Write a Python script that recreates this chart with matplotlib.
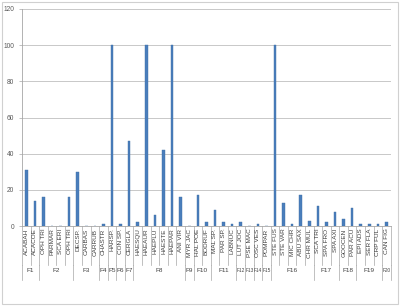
import matplotlib
matplotlib.use('Agg')
import matplotlib.pyplot as plt
import matplotlib.transforms as mtransforms
from matplotlib.patches import Rectangle
import numpy as np

plt.rcParams['font.family'] = ['Liberation Sans', 'DejaVu Sans']

# species codes, in axis order
species = ['ACABAH', 'ACACOE', 'OPH TRI', 'PARMAR', 'SCA ERI', 'OPH TRI',
           'DECSP.', 'CARBAS', 'CARRUB', 'CHASTR', 'HARSP.', 'CON SP.',
           'CERGLA', 'HAESQU', 'HAEAUR', 'HAEPLU', 'HAESTE', 'HAEPAR',
           'ANI VIR', 'MYR JAC', 'HAL POE', 'BODRUF', 'MAL SP.', 'PAR SP.',
           'LABNUC', 'LUT JOC', 'PSE MAC', 'OSC VES', 'POMPAR', 'STE FUS',
           'STE VAR', 'MIC CHR', 'ABU SAX', 'CHR MUL', 'SCA TRI', 'SPA FRO',
           'SPA AXI', 'GOOCEN', 'PAR ACU', 'EPI ADS', 'SER FLA', 'CRP FUL',
           'CAN FIG']
values = [31, 14, 16, 0, 0, 16,
          30, 0, 0, 1, 100, 1,
          47, 2, 100, 6, 42, 100,
          16, 0, 17, 2, 9, 2,
          1, 2, 0, 1, 0, 100,
          13, 1, 17, 3, 11, 2,
          8, 4, 10, 1, 1, 1,
          2]
groups = ['F1', 'F2', 'F3', 'F4', 'F5', 'F6', 'F7', 'F8', 'F9', 'F10',
          'F11', 'F12', 'F13', 'F14', 'F15', 'F16', 'F17', 'F18', 'F19', 'F20']
group_sizes = [2, 4, 3, 1, 1, 1, 1, 6, 1, 2,
               3, 1, 1, 1, 1, 5, 3, 2, 3, 1]

fig = plt.figure(figsize=(4.0, 3.06), dpi=100)
ax = fig.add_axes([0.055, 0.2614, 0.922, 0.7092])

x = np.arange(len(species))
ax.bar(x, values, width=0.3, color='#4A7EBB', edgecolor='#3F6FA8', linewidth=0.3, zorder=3)

ax.set_xlim(-0.5, len(species) - 0.5)
ax.set_ylim(0, 120)
ax.set_yticks(np.arange(0, 121, 20))
ax.tick_params(axis='y', labelsize=4.8, labelcolor='#595959', length=2.5, width=0.5,
               color='#A6A6A6', pad=3)
ax.set_xticks([])
ax.yaxis.grid(True, color='#BFBFBF', linewidth=0.6, zorder=0)
for s in ['top', 'right']:
    ax.spines[s].set_visible(False)
ax.spines['left'].set_color('#A6A6A6')
ax.spines['left'].set_linewidth(0.6)
ax.spines['bottom'].set_color('#A6A6A6')
ax.spines['bottom'].set_linewidth(0.6)

trans = mtransforms.blended_transform_factory(ax.transData, ax.transAxes)
line_kw = dict(color='#A6A6A6', linewidth=0.5, transform=trans, clip_on=False)

# category labels and separators
for i, name in enumerate(species):
    ax.text(i, -0.012, name, rotation=90, ha='center', va='top', fontsize=4.6,
            color='#404040', transform=trans)
for b in np.arange(-0.5, len(species), 1.0):
    ax.plot([b, b], [0, -0.18], **line_kw)

# group labels and longer separators
start = 0
bounds = [-0.5]
for g, n in zip(groups, group_sizes):
    mid = start + (n - 1) / 2
    fs = 3.4 if (n == 1 and len(g) == 3) else 4.6
    ax.text(mid, -0.205, g, ha='center', va='center', fontsize=fs,
            color='#404040', transform=trans)
    start += n
    bounds.append(start - 0.5)
for b in bounds:
    ax.plot([b, b], [-0.18, -0.25], **line_kw)

fig.patches.append(Rectangle((0.004, 0.005), 0.99, 0.99, transform=fig.transFigure,
                             fill=False, edgecolor='#D0D0D0', linewidth=0.8))

fig.savefig('out.png', dpi=100)
